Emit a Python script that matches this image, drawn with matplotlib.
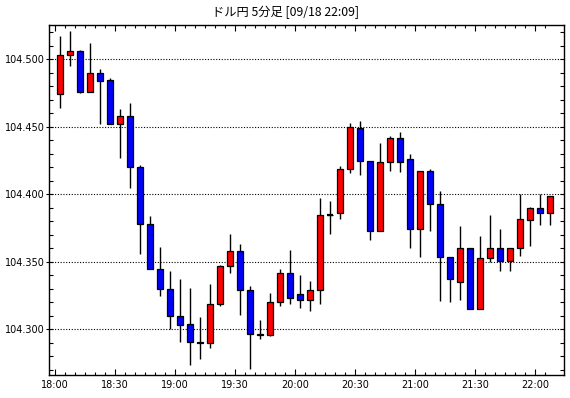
import matplotlib
matplotlib.use("Agg")
import matplotlib.pyplot as plt
import numpy as np

# 5-minute candles 18:00 .. 22:05 (USD/JPY)
opens = [104.474, 104.503, 104.506, 104.476, 104.490, 104.485, 104.452, 104.458, 104.420, 104.378,
         104.345, 104.330, 104.310, 104.304, 104.291, 104.290, 104.319, 104.347, 104.358, 104.329,
         104.297, 104.296, 104.320, 104.342, 104.326, 104.322, 104.329, 104.385, 104.386, 104.419,
         104.449, 104.425, 104.373, 104.424, 104.442, 104.426, 104.374, 104.417, 104.393, 104.354,
         104.335, 104.360, 104.315, 104.353, 104.360, 104.351, 104.360, 104.381, 104.390, 104.386]
highs = [104.517, 104.521, 104.507, 104.512, 104.493, 104.486, 104.4635, 104.468, 104.422, 104.384,
         104.361, 104.343, 104.337, 104.331, 104.309, 104.334, 104.348, 104.371, 104.363, 104.332,
         104.307, 104.327, 104.345, 104.359, 104.340, 104.336, 104.397, 104.395, 104.421, 104.453,
         104.454, 104.425, 104.438, 104.443, 104.446, 104.430, 104.417, 104.419, 104.4025, 104.354,
         104.3765, 104.360, 104.369, 104.385, 104.374, 104.360, 104.400, 104.391, 104.400, 104.399]
lows = [104.464, 104.495, 104.475, 104.476, 104.452, 104.452, 104.427, 104.405, 104.356, 104.345,
        104.325, 104.300, 104.291, 104.274, 104.278, 104.286, 104.3175, 104.342, 104.311, 104.271,
        104.293, 104.295, 104.317, 104.319, 104.316, 104.314, 104.319, 104.371, 104.382, 104.416,
        104.414, 104.366, 104.373, 104.417, 104.4165, 104.360, 104.354, 104.373, 104.321, 104.320,
        104.322, 104.315, 104.315, 104.350, 104.343, 104.343, 104.3546, 104.362, 104.377, 104.377]
closes = [104.503, 104.506, 104.476, 104.490, 104.484, 104.452, 104.458, 104.420, 104.378, 104.345,
          104.330, 104.310, 104.303, 104.291, 104.290, 104.319, 104.347, 104.358, 104.329, 104.297,
          104.296, 104.320, 104.342, 104.323, 104.322, 104.329, 104.385, 104.385, 104.419, 104.450,
          104.425, 104.373, 104.424, 104.442, 104.424, 104.374, 104.417, 104.393, 104.354, 104.337,
          104.360, 104.315, 104.353, 104.360, 104.351, 104.360, 104.3815, 104.390, 104.386, 104.399]
time_labels = ["18:00", "18:30", "19:00", "19:30", "20:00", "20:30", "21:00", "21:30", "22:00"]
title = "ドル円 5分足 [09/18 22:09]"

o = np.array(opens)
h = np.array(highs)
l = np.array(lows)
c = np.array(closes)
x = np.arange(len(o))

fig = plt.figure(figsize=(5.7, 3.98), dpi=100)
ax = fig.add_axes([49.3 / 570, (398 - 374.7) / 398, (564 - 49.3) / 570, (374.7 - 25) / 398])

ax.vlines(x, l, h, color="black", linewidth=1.0, zorder=2)
colors = np.where(c > o, "#ff0000", np.where(c < o, "#0000ff", "black"))
ax.bar(x, np.abs(c - o), bottom=np.minimum(o, c), width=0.68, color=colors,
       edgecolor="black", linewidth=0.9, zorder=3)
# doji: open == close drawn as a thick black bar
doji = c == o
ax.hlines(c[doji], x[doji] - 0.34, x[doji] + 0.34, color="black", linewidth=1.6, zorder=4)

ax.set_xlim(-1.07, 50.4)
ax.set_ylim(104.2665, 104.5254)

# y axis
ax.set_yticks(np.arange(104.30, 104.501, 0.05))
ax.set_yticklabels([f"{v:.3f}" for v in np.arange(104.30, 104.501, 0.05)])
ax.set_yticks(np.arange(104.27, 104.525, 0.01), minor=True)
ax.yaxis.remove_overlapping_locs = False
ax.tick_params(axis="y", which="major", direction="out", length=2.2, width=0.8,
               left=True, right=False, pad=0.8, labelsize=7)
ax.tick_params(axis="y", which="minor", direction="in", length=3, width=0.8,
               left=True, right=True)

# x axis
ax.set_xticks(np.arange(len(time_labels)) * 6 - 0.5)
ax.set_xticklabels(time_labels)
ax.set_xticks(np.arange(-0.5, 49, 1.0), minor=True)
ax.tick_params(axis="x", which="major", direction="in", length=4, width=0.8,
               top=True, bottom=True, pad=4, labelsize=7)
ax.tick_params(axis="x", which="minor", direction="in", length=2.2, width=0.8,
               top=True, bottom=True)

ax.grid(axis="y", which="major", color="black", linestyle=(0, (1, 1.5)), linewidth=0.8, zorder=1)
ax.set_axisbelow(True)
for s in ax.spines.values():
    s.set_linewidth(1.0)

fig.text(0.5, 1 - 12.5 / 398, title, ha="center", va="center", fontsize=8.8,
         family=["Noto Sans CJK JP", "DejaVu Sans"])

fig.savefig("out.png", dpi=100)
